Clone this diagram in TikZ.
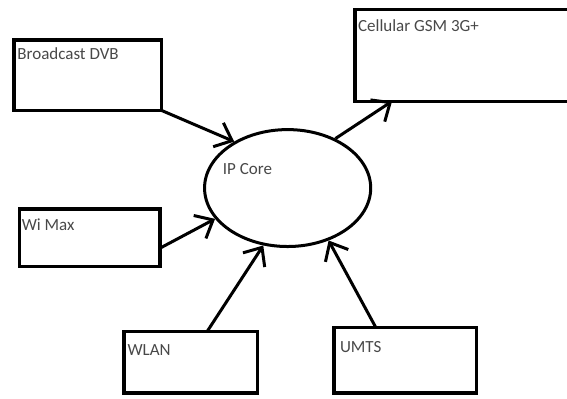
\documentclass[tikz,border=0pt]{standalone}
\usepackage{fontspec}
\setmainfont{Carlito}
\usepackage{xcolor}
\definecolor{labelgrey}{RGB}{72,72,72}
\usepackage{tikz}
\usetikzlibrary{
    shapes.geometric,
    arrows.meta,
    positioning
}

\begin{document}
\begin{tikzpicture}[
        box/.style={rectangle, draw=black, line width=3.5pt, inner sep=0pt, outer sep=0pt},
        lbl/.style={inner sep=0pt, text=labelgrey, font=\fontsize{17}{20}\selectfont},
        core/.style={ellipse, draw=black, line width=3pt, minimum width=5.84cm, minimum height=4.11cm, inner sep=0pt},
        link/.style={-{Straight Barb[length=15pt, width=26pt]}, line width=3pt}
    ]
        \useasboundingbox (0, 0) rectangle (19.93, 13.99);

        % IP Core
        \node[core] (core) at (10.11, 7.38) {};
        \node[lbl, anchor=north west] (corelbl) at (7.83, 8.26) {IP Core};

        % Broadcast DVB
        \node[box, minimum width=5.19cm, minimum height=2.48cm] (bcast) at (3.08, 11.35) {};
        \node[lbl, below right=0.26cm and 0.12cm of bcast.north west] (bcastlbl) {Broadcast DVB};

        % Cellular GSM 3G+
        \node[box, minimum width=7.92cm, minimum height=3.22cm] (cell) at (16.43, 12.04) {};
        \node[lbl, below right=0.36cm and 0.11cm of cell.north west] (celllbl) {Cellular GSM 3G+};

        % Wi Max
        \node[box, minimum width=4.94cm, minimum height=2.02cm] (wimax) at (3.16, 5.64) {};
        \node[lbl, below right=0.36cm and 0.07cm of wimax.north west] (wimaxlbl) {Wi Max};

        % WLAN
        \node[box, minimum width=4.69cm, minimum height=2.16cm] (wlan) at (6.70, 1.25) {};
        \node[lbl, below right=0.43cm and 0.12cm of wlan.north west] (wlanlbl) {WLAN};

        % UMTS
        \node[box, minimum width=5.01cm, minimum height=2.30cm] (umts) at (14.24, 1.32) {};
        \node[lbl, below right=0.46cm and 0.21cm of umts.north west] (umtslbl) {UMTS};

        % Connections
        \draw[link] (bcast.south east) -- (core.139);
        \draw[link] (core.46) -- ([xshift=1.31cm]cell.south west);
        \draw[link] ([yshift=0.64cm]wimax.south east) -- (core.203);
        \draw[link] ([xshift=2.92cm]wlan.north west) -- (core.247);
        \draw[link] ([xshift=1.48cm]umts.north west) -- (core.308);
    \end{tikzpicture}
\end{document}
